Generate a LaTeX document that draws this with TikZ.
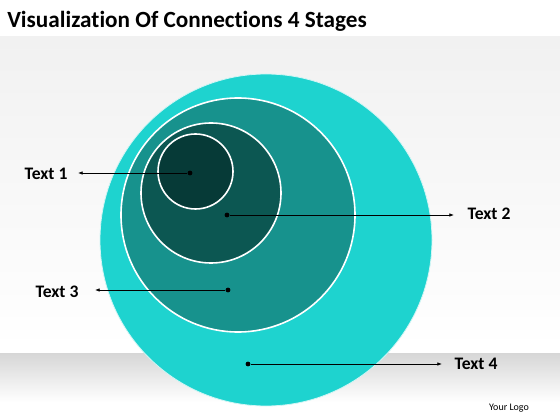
\documentclass[tikz,border=0pt]{standalone}
\usepackage{fontspec}
\setmainfont{Carlito}[Ligatures=NoCommon]
\usetikzlibrary{arrows.meta}
\definecolor{c4}{HTML}{1ED3CF}
\definecolor{c3}{HTML}{17928D}
\definecolor{c2}{HTML}{0C5752}
\definecolor{c1}{HTML}{063A37}
\definecolor{bgg}{HTML}{F1F1F1}
\definecolor{bandg}{HTML}{D6D6D6}
\begin{document}
\begin{tikzpicture}[x=0.75pt,y=-0.75pt,
  ring/.style={draw=white,line width=1.2pt},
  dotn/.style={circle,fill=black,inner sep=0pt,minimum size=3.6pt},
  lab/.style={font=\bfseries\fontsize{13.2}{15}\selectfont},
  conn/.style={line width=0.5pt,-{Latex[length=3.5pt,width=2.6pt]}}]
\useasboundingbox (0,0) rectangle (560,420);
\fill[white] (0,0) rectangle (560,420);
\shade[top color=bgg,bottom color=white] (0,37) rectangle (560,350);
\shade[top color=bandg,bottom color=white] (0,353) rectangle (560,402);
\node[anchor=west,inner sep=0pt,font=\bfseries\fontsize{17.4}{20}\selectfont] (title) at (7,21) {Visualization Of Connections 4 Stages};
\fill[c4] (266,240) circle (166);
\draw[white!80!c4,line width=0.6pt] (266,240) circle (166);
\fill[c3] (238,215) circle (117);
\draw[ring] (238,215) circle (117);
\fill[c2] (211,193) circle (70);
\draw[ring] (211,193) circle (70);
\fill[c1] (195.5,171.5) circle (37.5);
\draw[ring] (195.5,171.5) circle (37.5);
\node[dotn] (d1) at (190,173) {};
\node[dotn] (d2) at (227,215) {};
\node[dotn] (d3) at (228,290) {};
\node[dotn] (d4) at (248,364) {};
\node[lab] (t1) at (46,174) {Text 1};
\node[lab] (t2) at (489,214) {Text 2};
\node[lab] (t3) at (57,292) {Text 3};
\node[lab] (t4) at (476,364) {Text 4};
\coordinate (a1) at (78,173);
\coordinate (a2) at (454,215);
\coordinate (a3) at (95,290);
\coordinate (a4) at (442,364);
\draw[conn] (d1) -- (a1);
\draw[conn] (d2) -- (a2);
\draw[conn] (d3) -- (a3);
\draw[conn] (d4) -- (a4);
\node[font=\fontsize{7.5}{9}\selectfont] (logo) at (509,408) {Your Logo};
\end{tikzpicture}
\end{document}
